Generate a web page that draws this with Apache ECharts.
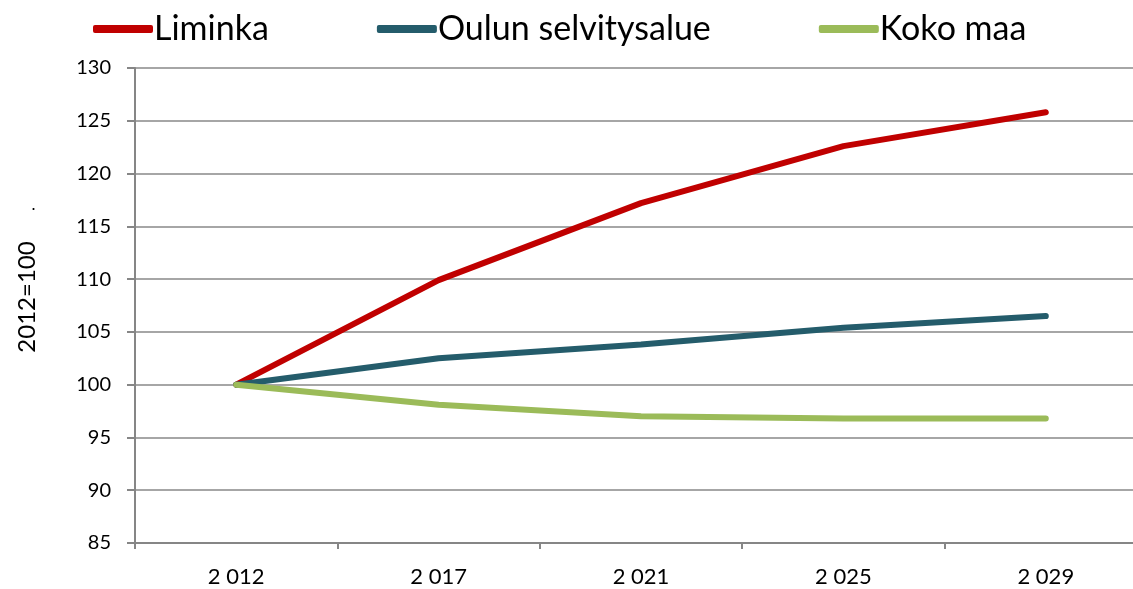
<!DOCTYPE html>
<html>
<head>
<meta charset="utf-8">
<script src="https://cdn.jsdelivr.net/npm/echarts@6/dist/echarts.min.js"></script>
<style>
  html, body { margin: 0; padding: 0; background: #fff; }
  #chart { width: 1133px; height: 589px; }
</style>
</head>
<body>
<div id="chart"></div>
<script>
// vuodet (x-akseli)
const years = ['2 012', '2 017', '2 021', '2 025', '2 029']
// indeksi 2012=100
const liminka = [100, 109.9, 117.2, 122.6, 125.8]
const oulunSeutu = [100, 102.5, 103.8, 105.4, 106.5]
const kokoMaa = [100, 98.1, 97.0, 96.8, 96.8]

const font = 'Lato, "Open Sans", sans-serif'

const chart = echarts.init(document.getElementById('chart'))

function lineSeries(name, data, color) {
  return {
    name: name,
    type: 'line',
    data: data,
    symbol: 'none',
    lineStyle: { width: 6, color: color, cap: 'round' },
    itemStyle: { color: color },
    z: 3
  }
}

chart.setOption({
  animation: false,
  legend: {
    left: 88,
    top: 7,
    itemWidth: 60,
    itemHeight: 8,
    itemGap: 108,
    icon: 'roundRect',
    textStyle: { fontFamily: font, fontSize: 34, color: '#000', padding: [0, 0, 0, -4] },
    data: ['Liminka', 'Oulun selvitysalue', 'Koko maa']
  },
  grid: { left: 135, top: 68, width: 1012, height: 475, outerBoundsMode: 'none' },
  xAxis: {
    type: 'category',
    data: years,
    boundaryGap: true,
    axisLine: { lineStyle: { color: '#868686', width: 2 } },
    axisTick: { show: true, length: 6, lineStyle: { color: '#868686', width: 2 } },
    axisLabel: { fontFamily: font, fontSize: 22, color: '#000', margin: 23 },
    splitLine: { show: false }
  },
  yAxis: {
    type: 'value',
    min: 85,
    max: 130,
    interval: 5,
    axisLine: { show: true, lineStyle: { color: '#868686', width: 2 } },
    axisTick: { show: true, length: 8, lineStyle: { color: '#868686', width: 2 } },
    axisLabel: { fontFamily: font, fontSize: 20, color: '#000', margin: 24 },
    splitLine: { lineStyle: { color: '#A6A6A6', width: 2 } }
  },
  graphic: [
    {
      type: 'text', x: 27, y: 297, rotation: Math.PI / 2,
      style: { text: '2012=100', fontFamily: font, fontSize: 24, fill: '#000', align: 'center', verticalAlign: 'middle' }
    },
    { type: 'text', left: 31, top: 196, style: { text: '.', fontSize: 18, fill: '#000' } }
  ],
  series: [
    lineSeries('Liminka', liminka, '#C00000'),
    lineSeries('Oulun selvitysalue', oulunSeutu, '#245C6B'),
    lineSeries('Koko maa', kokoMaa, '#9BBB59')
  ]
})
</script>
</body>
</html>
